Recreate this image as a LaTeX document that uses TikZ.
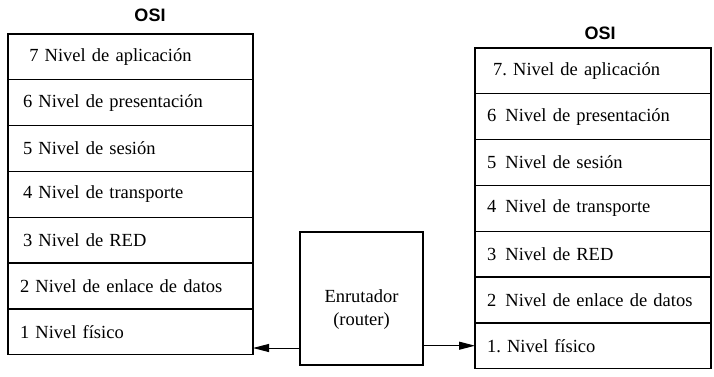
\documentclass[tikz,border=0pt]{standalone}
\usepackage{fontspec}
\setmainfont{Liberation Serif}
\newfontfamily\titulo{Liberation Sans}
\usetikzlibrary{positioning,arrows.meta}

\tikzset{
    capa/.style={draw=black, line width=1.4pt, rectangle, outer sep=0pt, inner xsep=12pt, inner ysep=0pt,
        minimum height=45.8pt, text width=#1, align=left, font=\fontsize{18.5}{22}\selectfont},
    osi/.style={font=\titulo\bfseries\fontsize{18}{20}\selectfont},
    caja/.style={draw=black, line width=1.4pt, rectangle, outer sep=0pt, minimum width=123pt, minimum height=133pt},
    flecha/.style={-{Triangle[length=16pt, width=8pt]}, line width=1pt}
}

\begin{document}
\begin{tikzpicture}[x=1pt, y=-1pt]
    \useasboundingbox (0, 0) rectangle (714, 377);

    % pila de la izquierda
    \node[osi] (osiA) at (150, 15) {OSI};
    \node[capa=221pt, anchor=north west] (a7) at (8, 34) {\ \,7\ Nivel de aplicación};
    \node[capa=221pt, below=0pt of a7] (a6) {\,6\ Nivel de presentación};
    \node[capa=221pt, below=0pt of a6] (a5) {\,5\ Nivel de sesión};
    \node[capa=221pt, below=0pt of a5] (a4) {\,4\ Nivel de transporte};
    \node[capa=221pt, below=0pt of a4] (a3) {\,3\ Nivel de RED};
    \node[capa=221pt, below=0pt of a3] (a2) {2\ Nivel de enlace de datos};
    \node[capa=221pt, below=0pt of a2] (a1) {1\ Nivel físico};

    % pila de la derecha
    \node[osi] (osiB) at (600, 33) {OSI};
    \node[capa=212pt, anchor=north west] (b7) at (475, 48) {\ 7.\ Nivel de aplicación};
    \node[capa=212pt, below=0pt of b7] (b6) {6\ \,Nivel de presentación};
    \node[capa=212pt, below=0pt of b6] (b5) {5\ \,Nivel de sesión};
    \node[capa=212pt, below=0pt of b5] (b4) {4\ \,Nivel de transporte};
    \node[capa=212pt, below=0pt of b4] (b3) {3\ \,Nivel de RED};
    \node[capa=212pt, below=0pt of b3] (b2) {2\ \,Nivel de enlace de datos};
    \node[capa=212pt, below=0pt of b2] (b1) {1.\ Nivel físico};

    % enrutador
    \node[caja] (router) at (361.5, 298.5) {};
    \node[align=center, font=\fontsize{18.5}{23}\selectfont] (rotulo) at ([yshift=-11pt]router.center) {Enrutador\\(router)};

    \coordinate (salida) at ([yshift=17pt]router.south west);
    \draw[flecha] (salida) -- (salida -| a1.east);
    \draw[flecha] (router.east |- b1) -- (b1.west);
\end{tikzpicture}
\end{document}
